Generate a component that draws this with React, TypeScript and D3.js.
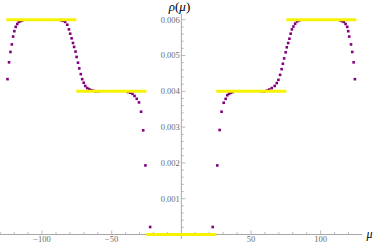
import * as d3 from "d3";
import { useEffect, useRef } from "react";

// eigenvalue density points (left to right)
const muValues = [
  // outer left edge
  -124.8, -123.7, -122.7, -121.7, -120.8, -119.9, -118.9, -117.8, -116.7, -115.5, -114.3,
  // step down 0.006 -> 0.004
  -86.4, -85.1, -83.4, -81.9, -80.7, -79.8, -78.8, -77.8, -77.0, -76.0, -75.2, -74.2, -73.3,
  -72.2, -71.2, -70.1, -69.0, -67.6, -66.1, -64.5, -62.8, -61.2, -59.5,
  // inner left drop 0.004 -> 0
  -38.3, -36.7, -35.1, -33.6, -32.0, -30.4, -28.9, -27.4, -25.8, -22.4,
  // inner right rise 0 -> 0.004
  22.5, 25.8, 27.5, 28.9, 30.4, 31.8, 33.0, 34.2, 35.5, 36.9,
  // step up 0.004 -> 0.006
  57.8, 59.6, 61.4, 63.1, 64.9, 67.0, 68.5, 69.7, 70.9, 72.0, 72.9, 73.8, 74.9, 75.7, 76.7,
  77.6, 78.5, 79.4, 80.5, 81.7, 83.0, 84.6,
  // outer right edge
  114.2, 115.5, 116.7, 117.9, 119.1, 119.8, 120.5, 121.8, 122.7, 123.7, 124.6,
];

const rhoValues = [
  0.00434, 0.00481, 0.0051, 0.00531, 0.00553, 0.00568, 0.0058, 0.00588, 0.00594, 0.00596, 0.00598,
  0.00599, 0.00597, 0.00594, 0.00586, 0.00573, 0.00561, 0.00548, 0.00535, 0.00524, 0.00511, 0.00496,
  0.0048, 0.00464, 0.00448, 0.00434, 0.00424, 0.00415, 0.00409, 0.00406, 0.00403, 0.00401, 0.004,
  0.004,
  0.00398, 0.00396, 0.00393, 0.00387, 0.00379, 0.00369, 0.00343, 0.00291, 0.00193, 0.00021,
  0.00021, 0.00193, 0.00292, 0.00343, 0.00368, 0.00379, 0.00389, 0.00393, 0.00396, 0.00398,
  0.004, 0.004, 0.00402, 0.00405, 0.00409, 0.00415, 0.00423, 0.00432, 0.00446, 0.00462, 0.00477,
  0.00492, 0.00509, 0.00523, 0.00535, 0.00547, 0.00561, 0.00573, 0.00581, 0.00589, 0.00595, 0.00598,
  0.00598, 0.00596, 0.00594, 0.00588, 0.0058, 0.00568, 0.00553, 0.00531, 0.0051, 0.00481, 0.00434,
];

// yellow step function
const stepFrom = [-125.7, -75.4, -25.1, 25.1, 75.4];
const stepTo = [-75.4, -25.1, 25.1, 75.4, 125.7];
const stepLevel = [0.006, 0.004, 0, 0.004, 0.006];

const xTicks = [-100, -50, 50, 100];
const yTicks = [0.001, 0.002, 0.003, 0.004, 0.005, 0.006];

export default function App() {
  const ref = useRef<SVGSVGElement>(null);

  useEffect(() => {
    const svg = d3.select(ref.current);
    svg.selectAll("*").remove();

    const x = d3.scaleLinear().domain([-130.2, 129.7]).range([0, 362]);
    const y = d3.scaleLinear().domain([-0.00012, 0.00616]).range([238.8, 14]);
    const x0 = x(0),
      y0 = y(0);
    const axisColor = "#a8a8a8";
    const labelFont = "'Liberation Serif', 'Times New Roman', serif";

    // minor + major ticks
    const xMinor = d3.range(-130, 130, 10).filter((v) => v !== 0);
    svg
      .append("g")
      .selectAll("line")
      .data(xMinor)
      .enter()
      .append("line")
      .attr("x1", (d) => x(d))
      .attr("x2", (d) => x(d))
      .attr("y1", y0)
      .attr("y2", (d) => y0 - (d % 50 === 0 ? 4 : 2.4))
      .style("stroke", axisColor)
      .style("stroke-width", "0.8px");

    const yMinor = d3.range(1, 31).map((i) => i * 0.0002);
    svg
      .append("g")
      .selectAll("line")
      .data(yMinor)
      .enter()
      .append("line")
      .attr("x1", x0)
      .attr("x2", (d, i) => x0 + ((i + 1) % 5 === 0 ? 4 : 2.4))
      .attr("y1", (d) => y(d))
      .attr("y2", (d) => y(d))
      .style("stroke", axisColor)
      .style("stroke-width", "0.8px");

    // axis lines
    svg
      .append("line")
      .attr("x1", 0)
      .attr("x2", 362)
      .attr("y1", y0)
      .attr("y2", y0)
      .style("stroke", axisColor)
      .style("stroke-width", "1px");
    svg
      .append("line")
      .attr("x1", x0)
      .attr("x2", x0)
      .attr("y1", 14)
      .attr("y2", 238.8)
      .style("stroke", axisColor)
      .style("stroke-width", "1px");

    // tick labels
    svg
      .append("g")
      .selectAll("text")
      .data(xTicks)
      .enter()
      .append("text")
      .attr("x", (d) => x(d))
      .attr("y", 242.3)
      .attr("text-anchor", "middle")
      .style("font-family", labelFont)
      .style("font-size", "8.5px")
      .style("fill", "#6a6a6a")
      .text((d) => (d < 0 ? "\u2212" + Math.abs(d) : String(d)));

    svg
      .append("g")
      .selectAll("text")
      .data(yTicks)
      .enter()
      .append("text")
      .attr("x", 179.8)
      .attr("y", (d) => y(d) + 2.9)
      .attr("text-anchor", "end")
      .style("font-family", labelFont)
      .style("font-size", "8.5px")
      .style("fill", "#6a6a6a")
      .text((d) => d.toFixed(3));

    // points
    svg
      .append("g")
      .selectAll("rect")
      .data(muValues)
      .enter()
      .append("rect")
      .attr("x", (d) => x(d) - 1.3)
      .attr("y", (d, i) => y(rhoValues[i]) - 1.3)
      .attr("width", 2.6)
      .attr("height", 2.6)
      .style("fill", "#800080");

    // step lines on top
    svg
      .append("g")
      .selectAll("line")
      .data(stepLevel)
      .enter()
      .append("line")
      .attr("x1", (d, i) => x(stepFrom[i]))
      .attr("x2", (d, i) => x(stepTo[i]))
      .attr("y1", (d) => y(d))
      .attr("y2", (d) => y(d))
      .style("stroke", "#f7f200")
      .style("stroke-width", "3px");

    // axis labels
    const yl = svg
      .append("text")
      .attr("x", 179.5)
      .attr("y", 11)
      .attr("text-anchor", "middle")
      .style("font-family", labelFont)
      .style("font-size", "13px")
      .style("fill", "#000");
    yl.append("tspan").style("font-style", "italic").text("ρ");
    yl.append("tspan").text("(");
    yl.append("tspan").style("font-style", "italic").text("μ");
    yl.append("tspan").text(")");

    svg
      .append("text")
      .attr("x", 366.5)
      .attr("y", 238)
      .style("font-family", labelFont)
      .style("font-size", "12px")
      .style("font-style", "italic")
      .style("fill", "#000")
      .text("μ");
  }, []);

  return (
    <svg
      ref={ref}
      width={374}
      height={244}
      style={{ position: "absolute", left: 0, top: 0, background: "#fff" }}
    />
  );
}
